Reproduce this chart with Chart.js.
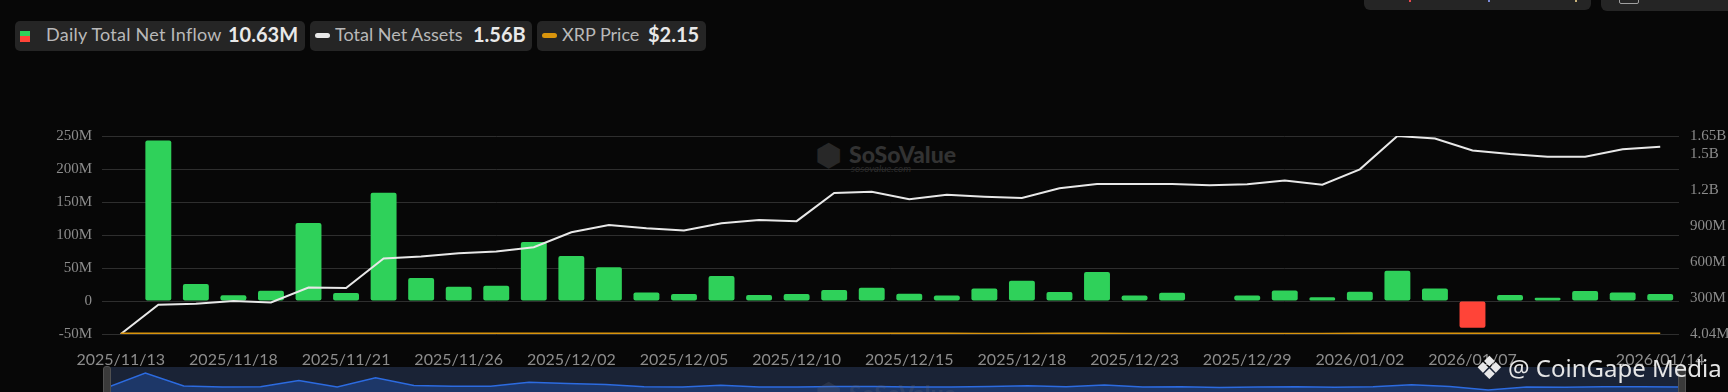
<!DOCTYPE html>
<html>
<head>
<meta charset="utf-8">
<title>XRP Spot ETF - Daily Total Net Inflow</title>
<script src="https://cdn.jsdelivr.net/npm/chart.js@4.4.1/dist/chart.umd.min.js"></script>
<style>
  html, body { margin: 0; padding: 0; background: #070707; }
  body { width: 1728px; height: 392px; position: relative; overflow: hidden; font-family: Lato, sans-serif; }
  .box { position: absolute; background: #252525; border-radius: 5px; }
  .txt { position: absolute; white-space: nowrap; }
  .lg-label { font-size: 18px; color: #b9b9b9; line-height: 30px; top: 19px; }
  .lg-value { font-size: 20px; font-weight: bold; color: #e9e9e9; line-height: 30px; top: 19px; }
  #main { position: absolute; left: 0; top: 0; }
  #sliderWrap { position: absolute; left: 107px; top: 367px; width: 1573px; height: 25px; background: #1a2336; }
  .handle { position: absolute; top: 366px; width: 8px; height: 30px; background: #3a3a3a; border-radius: 3px; border: 1px solid #505050; box-sizing: border-box; }
</style>
</head>
<body>

<!-- legend -->
<div class="box" style="left:15px; top:21px; width:290px; height:30px;"></div>
<div style="position:absolute; left:20px; top:31px; width:10px; height:5px; background:#2fd15a;"></div>
<div style="position:absolute; left:20px; top:36px; width:10px; height:6px; background:#ff4438;"></div>
<div class="txt lg-label" style="left:46px; letter-spacing:0.25px;">Daily Total Net Inflow</div>
<div class="txt lg-value" style="left:228px;">10.63M</div>

<div class="box" style="left:310px; top:21px; width:222px; height:30px;"></div>
<div style="position:absolute; left:315px; top:33px; width:15px; height:5px; background:#e8e8e8; border-radius:3px;"></div>
<div class="txt lg-label" style="left:335px;">Total Net Assets</div>
<div class="txt lg-value" style="left:473px;">1.56B</div>

<div class="box" style="left:537px; top:21px; width:169px; height:30px;"></div>
<div style="position:absolute; left:542px; top:33px; width:15px; height:5px; background:#d9940c; border-radius:3px;"></div>
<div class="txt lg-label" style="left:562px;">XRP Price</div>
<div class="txt lg-value" style="left:648px;">$2.15</div>

<!-- cut-off toolbar boxes at the top right -->
<div class="box" style="left:1364px; top:-20px; width:227px; height:30px; border-radius:6px;"></div>
<div style="position:absolute; left:1409px; top:0; width:2px; height:2px; background:#e5484d;"></div>
<div style="position:absolute; left:1488px; top:0; width:2px; height:2px; background:#7a8ad8;"></div>
<div style="position:absolute; left:1575px; top:0; width:2px; height:2px; background:#c9b27a;"></div>
<div class="box" style="left:1601px; top:-20px; width:140px; height:31px; border-radius:6px;"></div>
<div style="position:absolute; left:1619px; top:-4px; width:18px; height:6px; border:1px solid #a0a0a0; border-radius:2px;"></div>

<!-- sosovalue watermark -->
<div class="txt" style="left:815px; top:137px; font-family:'DejaVu Sans'; font-size:31px; color:#282828;">&#x2B22;</div>
<div class="txt" style="left:849px; top:140px; font-size:23px; font-weight:900; color:#323232;">SoSoValue</div>
<div class="txt" style="left:851px; top:162px; font-size:10px; font-style:italic; color:#2c2c2c;">sosovalue.com</div>

<canvas id="main" width="1728" height="367"></canvas>

<div id="sliderWrap"><canvas id="slider"></canvas></div>
<div class="txt" style="left:815px; top:376px; font-family:'DejaVu Sans'; font-size:31px; color:rgba(90,100,120,0.25);">&#x2B22;</div>
<div class="txt" style="left:849px; top:379px; font-size:23px; font-weight:900; color:rgba(90,100,120,0.25);">SoSoValue</div>
<div class="handle" style="left:103px;"></div>
<div class="handle" style="left:1678px;"></div>

<!-- coingape watermark -->
<div class="txt" style="left:1475px; top:349px; font-family:'DejaVu Sans'; font-size:32px; color:#e8e8e8;">&#x2756;</div>
<div class="txt" style="left:1508px; top:352px; font-family:'Noto Sans'; font-size:24px; color:#e6e6e6; line-height:32px;">@ CoinGape Media</div>

<script>
var dates = [
  "2025/11/13", "2025/11/14", "2025/11/17", "2025/11/18", "2025/11/19", "2025/11/20", "2025/11/21",
  "2025/11/24", "2025/11/25", "2025/11/26", "2025/11/28", "2025/12/01", "2025/12/02", "2025/12/03",
  "2025/12/04", "2025/12/05", "2025/12/08", "2025/12/09", "2025/12/10", "2025/12/11", "2025/12/12",
  "2025/12/15", "2025/12/16", "2025/12/17", "2025/12/18", "2025/12/19", "2025/12/22", "2025/12/23",
  "2025/12/24", "2025/12/26", "2025/12/29", "2025/12/30", "2025/12/31", "2026/01/02", "2026/01/05",
  "2026/01/06", "2026/01/07", "2026/01/08", "2026/01/09", "2026/01/12", "2026/01/13", "2026/01/14"
];

// dates that get a label on the x axis
var tickDates = [
  "2025/11/13", "2025/11/18", "2025/11/21", "2025/11/26", "2025/12/02", "2025/12/05", "2025/12/10",
  "2025/12/15", "2025/12/18", "2025/12/23", "2025/12/29", "2026/01/02", "2026/01/07", "2026/01/14"
];

// daily total net inflow, millions USD
var netInflow = [
  null, 243, 25.7, 8.6, 15.7, 118, 12,
  164, 35, 21.7, 23, 89.5, 68, 51,
  13, 10.6, 38, 9, 10.6, 16.6, 20,
  11, 8.5, 19, 30.7, 13.6, 44, 8.5,
  12.6, null, 8.5, 16, 5.5, 14, 46,
  19, -40.7, 9, 5, 15, 13, 10.63
];

// total net assets, millions USD
var netAssets = [
  4.04, 247, 255, 278, 266, 390, 386,
  631, 648, 676, 689, 726, 850, 911,
  884, 864, 925, 952, 942, 1177, 1187,
  1124, 1162, 1146, 1135, 1216, 1251, 1251,
  1251, 1240, 1249, 1279, 1245, 1373, 1650,
  1629, 1530, 1500, 1478, 1478, 1539, 1560
];

// XRP price, USD
var xrpPrice = [
  2.39, 2.28, 2.15, 2.23, 2.10, 1.98, 1.95,
  2.24, 2.21, 2.20, 2.19, 2.04, 2.17, 2.20,
  2.11, 2.05, 2.07, 2.08, 2.05, 2.02, 2.00,
  1.93, 1.91, 1.86, 1.81, 1.92, 1.91, 1.87,
  1.86, 1.85, 1.86, 1.87, 1.84, 2.00, 2.35,
  2.27, 2.17, 2.13, 2.09, 2.05, 2.12, 2.15
];

var flowTicks = [-50, 0, 50, 100, 150, 200, 250];
var assetTicks = [4.04, 300, 600, 900, 1200, 1500, 1650];

var green = "#2fd15a";
var red = "#ff4438";
var tickColor = "#8c8c8c";
var gridColor = "#2e2e2e";

function fmtAssets(v) {
  if (v >= 1000) return (v / 1000) + "B";
  return v + "M";
}

var mainChart = new Chart(document.getElementById("main"), {
  type: "bar",
  data: {
    labels: dates,
    datasets: [
      {
        type: "line",
        label: "XRP Price",
        data: xrpPrice,
        yAxisID: "yPrice",
        borderColor: "#d9940c",
        borderWidth: 2,
        pointRadius: 0,
        order: 0
      },
      {
        type: "line",
        label: "Total Net Assets",
        data: netAssets,
        yAxisID: "yAssets",
        borderColor: "#e8e8e8",
        borderWidth: 2,
        pointRadius: 0,
        tension: 0,
        order: 1
      },
      {
        type: "bar",
        label: "Daily Total Net Inflow",
        data: netInflow,
        yAxisID: "yFlow",
        backgroundColor: function(c) {
          return c.raw < 0 ? red : green;
        },
        borderRadius: 2,
        borderSkipped: false,
        barPercentage: 0.69,
        categoryPercentage: 1,
        order: 2
      }
    ]
  },
  options: {
    responsive: false,
    animation: false,
    layout: { padding: { top: 136, left: 0, right: 0, bottom: 0 } },
    plugins: { legend: { display: false }, tooltip: { enabled: false } },
    scales: {
      x: {
        offset: true,
        grid: { display: false },
        border: { display: false },
        afterFit: function(s) { s.height = 33; },
        ticks: {
          autoSkip: false,
          maxRotation: 0,
          padding: 8,
          color: tickColor,
          font: { family: "Lato", size: 16 },
          callback: function(val, i) {
            return tickDates.indexOf(dates[i]) >= 0 ? dates[i] : "";
          }
        }
      },
      yFlow: {
        position: "left",
        min: -50,
        max: 250,
        afterFit: function(s) { s.width = 102; },
        afterBuildTicks: function(s) {
          s.ticks = flowTicks.map(function(v) { return { value: v }; });
        },
        grid: { color: gridColor, drawTicks: false },
        border: { display: false },
        ticks: {
          padding: 10,
          color: tickColor,
          font: { family: "Liberation Serif", size: 15 },
          callback: function(v) { return v === 0 ? "0" : v + "M"; }
        }
      },
      yAssets: {
        position: "right",
        min: 4.04,
        max: 1650,
        afterFit: function(s) { s.width = 49; },
        afterBuildTicks: function(s) {
          s.ticks = assetTicks.map(function(v) { return { value: v }; });
        },
        grid: { display: false, drawTicks: false },
        border: { display: false },
        ticks: {
          autoSkip: false,
          padding: 11,
          color: tickColor,
          font: { family: "Liberation Serif", size: 15 },
          callback: function(v) { return fmtAssets(v); }
        }
      },
      yPrice: {
        display: false,
        min: 0,
        max: 1000
      }
    }
  }
});

// small overview chart under the main one
var sliderChart = new Chart(document.getElementById("slider"), {
  type: "line",
  data: {
    labels: dates,
    datasets: [{
      data: netInflow.map(function(v) { return v === null ? 0 : v; }),
      borderColor: "#2c6be0",
      borderWidth: 1.5,
      backgroundColor: "#1d3768",
      fill: "start",
      pointRadius: 0,
      tension: 0
    }]
  },
  options: {
    responsive: true,
    maintainAspectRatio: false,
    animation: false,
    layout: { padding: 0 },
    plugins: { legend: { display: false }, tooltip: { enabled: false } },
    scales: {
      x: { display: false, offset: false },
      y: { display: false, min: -73, max: 343 }
    }
  }
});
</script>
</body>
</html>
